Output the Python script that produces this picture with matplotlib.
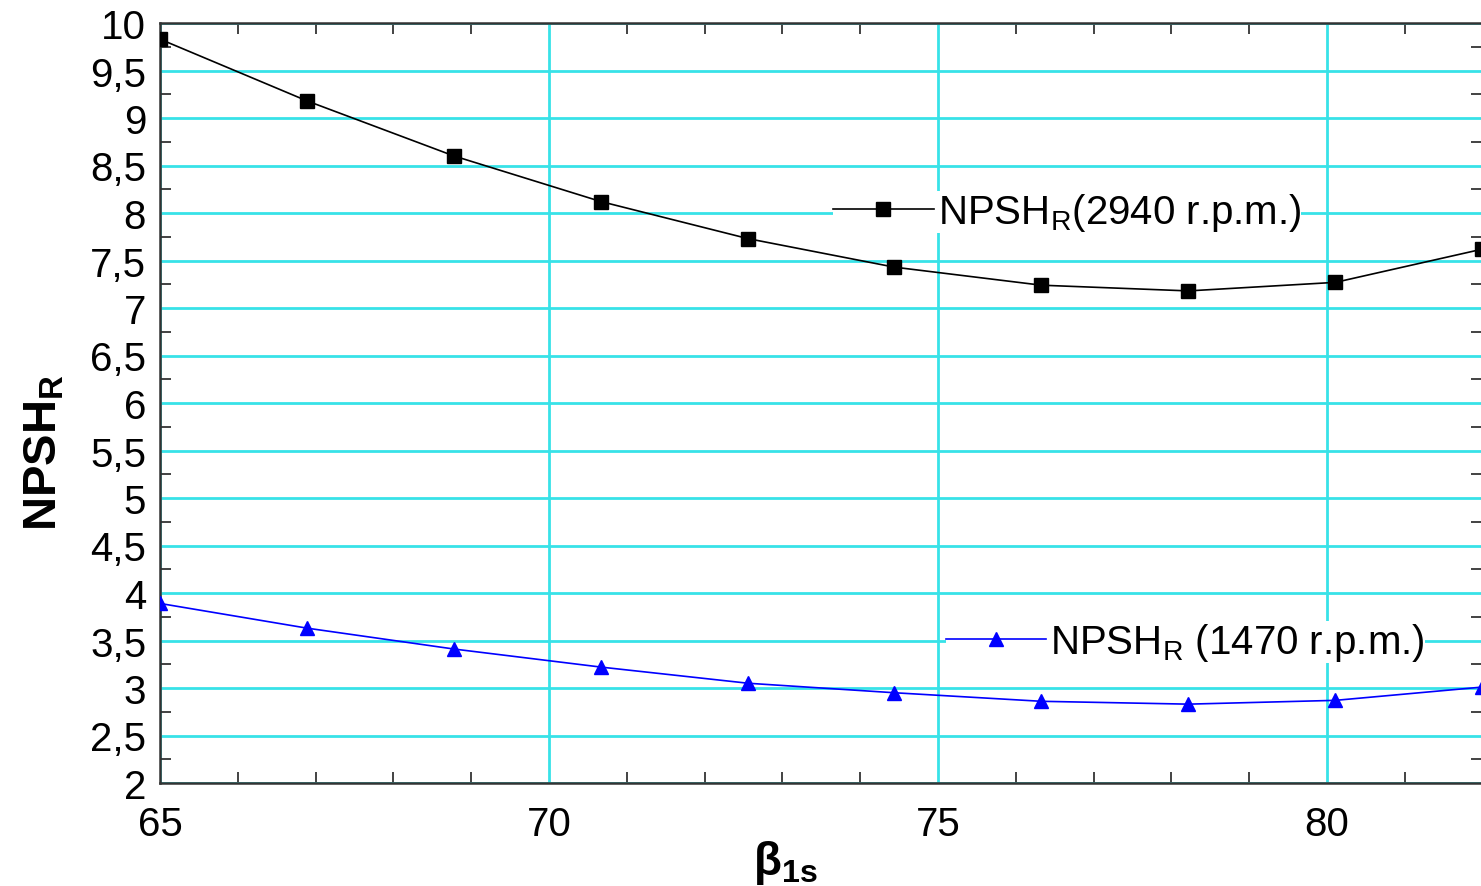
import matplotlib
matplotlib.use('Agg')
import matplotlib.pyplot as plt
from matplotlib.ticker import MultipleLocator, FuncFormatter
from matplotlib.lines import Line2D

plt.rcParams['font.family'] = ['Liberation Sans', 'DejaVu Sans']
plt.rcParams['mathtext.fontset'] = 'custom'
plt.rcParams['mathtext.rm'] = 'Liberation Sans'
plt.rcParams['mathtext.bf'] = 'Liberation Sans:bold'
plt.rcParams['mathtext.it'] = 'Liberation Sans:italic'

beta = [65, 66.89, 68.78, 70.67, 72.56, 74.44, 76.33, 78.22, 80.11, 82]
npsh_2940 = [9.83, 9.18, 8.60, 8.12, 7.73, 7.43, 7.24, 7.18, 7.27, 7.62]
npsh_1470 = [3.89, 3.63, 3.41, 3.22, 3.05, 2.95, 2.86, 2.83, 2.87, 3.01]

fig = plt.figure(figsize=(14.81, 8.87), dpi=100)
ax = fig.add_axes([160 / 1481, 1 - 784 / 887, 1 - 160 / 1481 + 0.001, 760 / 887])

grid_col = '#38e2e8'
ax.plot(beta, npsh_2940, color='black', lw=1.2, marker='s', ms=10, zorder=3)
ax.plot(beta, npsh_1470, color='#0000ff', lw=1.2, marker='^', ms=10, zorder=3)

ax.set_xlim(65, 82)
ax.set_ylim(2, 10)
ax.xaxis.set_major_locator(MultipleLocator(5))
ax.xaxis.set_minor_locator(MultipleLocator(1))
ax.yaxis.set_major_locator(MultipleLocator(0.5))
ax.yaxis.set_minor_locator(MultipleLocator(0.25))
ax.yaxis.set_major_formatter(FuncFormatter(lambda v, p: ('%g' % v).replace('.', ',')))
ax.grid(True, which='major', color=grid_col, lw=2, zorder=0)
ax.set_axisbelow(True)

ax.tick_params(which='both', direction='in', top=True, right=True, labelsize=29)
ax.tick_params(which='major', length=0, pad=10)
ax.tick_params(axis='x', which='major', pad=16)
ax.tick_params(which='minor', length=8, width=1.2, color='#222222')
for s in ax.spines.values():
    s.set_linewidth(1.8)
    s.set_color('#333333')

ax.set_ylabel(r'$\mathbf{NPSH_R}$', fontsize=34)
ax.yaxis.set_label_coords(-0.071, 0.436)
ax.set_xlabel(r'$\mathbf{\beta_{1s}}$', fontsize=33)
ax.xaxis.set_label_coords(0.473, -0.072)

leg1 = ax.legend(handles=[Line2D([], [], color='black', lw=1.2, marker='s', ms=10)],
                 labels=[r'NPSH$_\mathregular{R}$(2940 r.p.m.)'],
                 loc='center left', bbox_to_anchor=(0.509, 0.751), fontsize=29,
                 frameon=True, facecolor='white', edgecolor='none', framealpha=1,
                 borderpad=0, handlelength=2.5, handletextpad=0.1, borderaxespad=0)
ax.add_artist(leg1)
ax.legend(handles=[Line2D([], [], color='#0000ff', lw=1.2, marker='^', ms=10)],
          labels=[r'NPSH$_\mathregular{R}$ (1470 r.p.m.)'],
          loc='center left', bbox_to_anchor=(0.594, 0.1855), fontsize=29,
          frameon=True, facecolor='white', edgecolor='none', framealpha=1,
          borderpad=0, handlelength=2.5, handletextpad=0.1, borderaxespad=0)

fig.savefig('out.png', dpi=100)
